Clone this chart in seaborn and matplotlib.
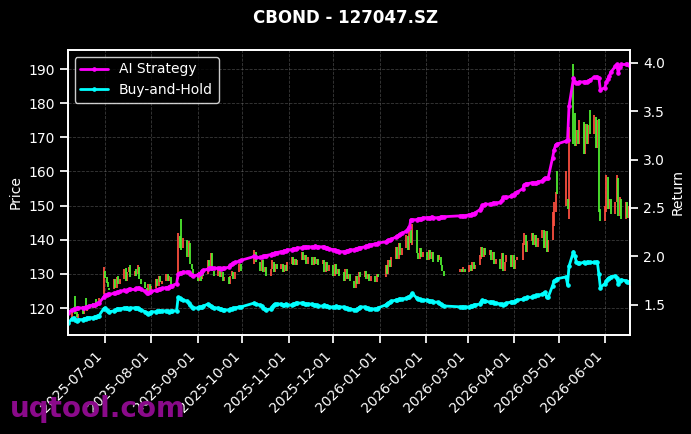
import numpy as np
import pandas as pd
import matplotlib
matplotlib.use("Agg")
import matplotlib.pyplot as plt
import matplotlib.dates as mdates
import seaborn as sns

# --- trading calendar (SZSE), one row per week below ---
START, END = "2025-06-06", "2026-06-18"
HOLIDAYS = ["2025-10-01", "2025-10-02", "2025-10-03", "2025-10-06", "2025-10-07", "2025-10-08",
            "2026-01-01", "2026-01-02",
            "2026-02-16", "2026-02-17", "2026-02-18", "2026-02-19", "2026-02-20", "2026-02-23",
            "2026-04-06", "2026-05-01", "2026-05-04", "2026-05-05"]

# --- daily bars (open / close) ---
bar_open = [
    118.0,
    116.5, 119.0, 123.5, 118.8, 117.2,
    120.5, 118.2, 123.0, 119.0, 120.5,
    121.5, 120.0, 122.8, 120.5, 121.0,
    124.0, 131.0, 129.0, 127.5, 126.0,
    125.5, 128.5, 126.0, 129.5, 127.0,
    128.5, 131.8, 128.0, 130.5, 132.5,
    129.5, 131.5, 130.0, 132.0, 128.5,
    127.5, 126.0, 125.0, 127.0, 125.0,
    126.0, 128.5, 126.5, 129.5, 127.0,
    128.0, 130.0, 128.0, 129.0, 127.0,
    126.5, 128.5, 141.0, 146.0, 137.5,
    140.0, 135.0, 139.0, 133.0, 131.5,
    129.5, 128.0, 130.5, 128.5, 131.0,
    130.0, 134.0, 131.5, 136.0, 131.0,
    129.5, 131.5, 129.0, 130.5, 128.0,
    129.0, 127.0, 129.5, 130.5, 128.5,
    130.5, 133.0,
    133.0, 136.5,
    133.5, 131.0, 134.0, 130.5, 132.0,
    129.5, 131.5, 133.5, 130.5, 133.0,
    131.5, 133.0, 130.5, 132.5, 131.0,
    133.0, 135.0, 132.5, 134.5, 132.5,
    134.0, 136.5, 134.0, 135.5, 133.0,
    135.0, 132.5, 135.0, 133.0, 134.5,
    133.0, 134.0, 130.5, 133.5, 131.0,
    132.5, 129.5, 133.0, 130.0, 131.5,
    130.5, 128.0, 131.5, 128.5, 130.0,
    128.0, 126.0, 129.5, 127.0, 130.5,
    129.0, 131.0, 128.5, 130.0, 128.0,
    129.5, 127.5, 130.0,
    129.0, 132.5, 130.0, 134.0, 132.0,
    134.5, 138.0, 134.5, 139.0, 135.5,
    137.5, 141.0, 137.0, 143.0, 138.5,
    143.0, 136.0, 134.5, 137.5, 135.0,
    136.5, 134.0, 137.0, 134.5, 136.5,
    135.5, 134.0, 135.0, 132.5, 131.0,
    130.5, 131.5, 130.5, 131.5,
    130.5, 132.5, 131.0, 133.5, 131.5,
    132.5, 134.5, 138.0, 135.0, 137.5,
    135.5, 137.0, 134.0, 136.5, 133.0,
    134.5, 131.5, 136.0, 131.0, 133.5,
    135.5, 132.0, 135.5, 131.5, 134.0,
    134.0, 138.5, 141.5, 136.5,
    139.5, 142.0, 138.5, 141.5, 138.0,
    140.5, 143.0, 137.5, 142.5, 136.5,
    140.0, 144.0, 148.0, 160.0,
    150.0, 152.0, 146.0,
    191.5, 177.0, 167.5, 172.0, 168.0,
    174.5, 165.0, 174.0, 168.0, 178.0,
    171.0, 176.0, 167.0, 175.5, 149.0,
    145.5, 148.0, 158.5, 149.0, 152.0,
    147.5, 151.0, 158.0, 147.0, 152.0,
    146.0, 151.0, 146.5, 150.0,
]
bar_close = [
    116.0,
    119.3, 120.1, 118.4, 117.5, 118.4,
    118.4, 119.3, 119.3, 120.1, 120.1,
    120.1, 121.0, 121.0, 121.9, 123.0,
    132.0, 128.9, 127.2, 126.3, 125.4,
    128.5, 126.0, 129.0, 127.0, 128.5,
    131.5, 128.0, 130.5, 132.0, 129.0,
    131.0, 129.5, 132.5, 128.5, 127.0,
    126.0, 124.5, 127.0, 125.0, 126.5,
    128.5, 126.5, 129.5, 127.5, 128.0,
    130.0, 128.0, 129.5, 127.0, 126.5,
    128.0, 142.0, 137.5, 137.0, 140.5,
    135.0, 139.5, 133.0, 131.5, 129.5,
    128.0, 130.5, 128.0, 131.0, 129.5,
    134.0, 131.5, 136.0, 131.0, 129.5,
    131.5, 129.0, 130.5, 128.0, 129.0,
    127.0, 129.5, 131.0, 128.5, 130.5,
    133.0, 131.0,
    137.0, 133.5,
    131.0, 134.0, 130.5, 132.0, 129.5,
    131.5, 134.0, 130.5, 133.0, 131.5,
    133.0, 130.5, 132.5, 131.0, 133.5,
    135.0, 132.5, 134.5, 132.5, 134.0,
    136.5, 134.0, 135.5, 133.0, 135.0,
    132.5, 135.0, 133.0, 134.5, 132.5,
    134.0, 130.5, 133.5, 131.0, 132.5,
    129.5, 133.0, 130.0, 131.5, 129.5,
    128.0, 131.5, 128.5, 130.0, 128.0,
    126.0, 129.5, 127.0, 130.5, 129.0,
    131.0, 128.5, 130.0, 128.0, 129.5,
    127.5, 130.0, 129.0,
    132.5, 130.0, 134.0, 132.0, 135.0,
    138.0, 134.5, 139.0, 135.5, 137.5,
    141.5, 137.0, 143.5, 139.0, 144.5,
    136.0, 134.5, 137.5, 135.0, 136.5,
    134.0, 137.0, 134.5, 136.5, 133.5,
    133.5, 135.5, 132.5, 131.0, 129.5,
    131.5, 130.5, 132.0, 130.5,
    132.5, 131.0, 133.5, 131.5, 132.5,
    135.5, 138.0, 135.0, 137.5, 135.5,
    137.0, 134.0, 136.5, 133.0, 134.5,
    131.5, 136.0, 131.0, 133.5, 135.5,
    132.0, 135.5, 131.5, 134.0, 135.0,
    139.0, 142.0, 136.5, 139.5,
    142.0, 138.5, 141.5, 138.0, 140.5,
    143.0, 137.5, 142.5, 136.5, 140.0,
    148.0, 151.0, 154.0, 153.5,
    160.0, 149.0, 173.0,
    168.0, 167.5, 172.0, 168.0, 175.0,
    165.0, 174.0, 168.0, 173.5, 171.0,
    176.5, 167.0, 175.0, 148.0, 145.5,
    150.0, 159.0, 149.0, 152.0, 147.5,
    151.0, 159.0, 147.0, 152.5, 146.0,
    151.0, 146.5, 150.0, 145.5,
]

# --- cumulative returns ---
strategy_ret = [
    1.42,
    1.45, 1.46, 1.46, 1.47, 1.47,
    1.47, 1.47, 1.48, 1.48, 1.49,
    1.50, 1.50, 1.51, 1.52, 1.52,
    1.58, 1.60, 1.60, 1.61, 1.61,
    1.62, 1.62, 1.63, 1.63, 1.64,
    1.65, 1.64, 1.655, 1.66, 1.66,
    1.66, 1.67, 1.67, 1.67, 1.66,
    1.64, 1.62, 1.62, 1.63, 1.64,
    1.65, 1.65, 1.66, 1.665, 1.67,
    1.68, 1.68, 1.69, 1.70, 1.70,
    1.72, 1.82, 1.83, 1.83, 1.84,
    1.84, 1.84, 1.82, 1.81, 1.80,
    1.81, 1.82, 1.83, 1.85, 1.86,
    1.87, 1.88, 1.88, 1.88, 1.88,
    1.88, 1.88, 1.87, 1.88, 1.88,
    1.89, 1.91, 1.92, 1.93, 1.94,
    1.95, 1.96,
    2.00, 1.99,
    1.99, 1.99, 2.00, 2.01, 2.01,
    2.02, 2.03, 2.03, 2.04, 2.04,
    2.05, 2.05, 2.06, 2.06, 2.07,
    2.07, 2.08, 2.08, 2.08, 2.09,
    2.09, 2.10, 2.10, 2.10, 2.10,
    2.10, 2.10, 2.11, 2.10, 2.10,
    2.10, 2.10, 2.09, 2.09, 2.08,
    2.07, 2.07, 2.06, 2.06, 2.05,
    2.05, 2.05, 2.06, 2.06, 2.07,
    2.07, 2.08, 2.08, 2.09, 2.09,
    2.10, 2.11, 2.11, 2.12, 2.12,
    2.13, 2.13, 2.14,
    2.15, 2.16, 2.17, 2.17, 2.18,
    2.20, 2.21, 2.22, 2.23, 2.24,
    2.26, 2.28, 2.30, 2.38, 2.38,
    2.38, 2.39, 2.39, 2.39, 2.40,
    2.40, 2.40, 2.40, 2.41, 2.40,
    2.40, 2.40, 2.41, 2.41, 2.41,
    2.42, 2.42, 2.42, 2.42,
    2.43, 2.43, 2.44, 2.44, 2.45,
    2.48, 2.50, 2.53, 2.53, 2.54,
    2.54, 2.54, 2.55, 2.55, 2.55,
    2.56, 2.58, 2.61, 2.61, 2.61,
    2.62, 2.63, 2.63, 2.65, 2.66,
    2.70, 2.74, 2.75, 2.75,
    2.76, 2.76, 2.76, 2.76, 2.77,
    2.78, 2.80, 2.81, 2.81, 2.81,
    3.02, 3.10, 3.15, 3.16,
    3.19, 3.20, 3.55,
    3.84, 3.80, 3.79, 3.79, 3.80,
    3.80, 3.80, 3.80, 3.81, 3.82,
    3.85, 3.85, 3.85, 3.84, 3.72,
    3.74, 3.80, 3.83, 3.86, 3.90,
    3.96, 3.98, 3.89, 3.95, 3.98,
    3.98, 3.98, 3.97, 3.97,
]
bh_ret = [
    1.31,
    1.36, 1.37, 1.35, 1.34, 1.35,
    1.35, 1.36, 1.36, 1.37, 1.37,
    1.37, 1.38, 1.38, 1.39, 1.39,
    1.46, 1.47, 1.45, 1.44, 1.43,
    1.44, 1.45, 1.46, 1.46, 1.46,
    1.47, 1.47, 1.47, 1.46, 1.47,
    1.47, 1.47, 1.47, 1.46, 1.45,
    1.43, 1.42, 1.41, 1.42, 1.43,
    1.43, 1.44, 1.44, 1.44, 1.44,
    1.44, 1.44, 1.43, 1.44, 1.44,
    1.44, 1.58, 1.57, 1.56, 1.55,
    1.54, 1.52, 1.50, 1.48, 1.47,
    1.47, 1.48, 1.48, 1.48, 1.49,
    1.51, 1.50, 1.49, 1.48, 1.47,
    1.47, 1.46, 1.46, 1.45, 1.45,
    1.45, 1.46, 1.46, 1.47, 1.47,
    1.48, 1.48,
    1.52, 1.51,
    1.50, 1.49, 1.47, 1.46, 1.45,
    1.46, 1.48, 1.50, 1.51, 1.51,
    1.51, 1.50, 1.50, 1.51, 1.50,
    1.50, 1.51, 1.51, 1.52, 1.52,
    1.52, 1.52, 1.51, 1.51, 1.51,
    1.51, 1.50, 1.50, 1.50, 1.49,
    1.49, 1.50, 1.49, 1.49, 1.48,
    1.48, 1.48, 1.49, 1.48, 1.48,
    1.48, 1.47, 1.47, 1.46, 1.46,
    1.45, 1.45, 1.46, 1.47, 1.48,
    1.48, 1.47, 1.47, 1.46, 1.46,
    1.46, 1.46, 1.47,
    1.50, 1.51, 1.52, 1.53, 1.54,
    1.55, 1.55, 1.56, 1.56, 1.56,
    1.57, 1.58, 1.58, 1.60, 1.62,
    1.57, 1.56, 1.56, 1.55, 1.55,
    1.55, 1.54, 1.54, 1.54, 1.53,
    1.53, 1.52, 1.51, 1.50, 1.49,
    1.48, 1.48, 1.48, 1.48,
    1.48, 1.49, 1.49, 1.50, 1.50,
    1.51, 1.53, 1.55, 1.54, 1.54,
    1.53, 1.53, 1.53, 1.52, 1.52,
    1.51, 1.51, 1.50, 1.51, 1.52,
    1.53, 1.53, 1.53, 1.54, 1.55,
    1.56, 1.57, 1.57, 1.58,
    1.58, 1.59, 1.59, 1.60, 1.60,
    1.61, 1.62, 1.63, 1.58, 1.58,
    1.70, 1.75, 1.76, 1.77,
    1.79, 1.71, 1.90,
    2.05, 2.00, 1.94, 1.93, 1.93,
    1.94, 1.93, 1.94, 1.94, 1.94,
    1.94, 1.94, 1.94, 1.82, 1.68,
    1.72, 1.75, 1.77, 1.78, 1.79,
    1.80, 1.78, 1.72, 1.75, 1.76,
    1.75, 1.74, 1.74, 1.73,
]

UP_COLOR = "#ff5040"     # red = close above open
DOWN_COLOR = "#50f030"   # green = close below open


def main():
    dates = pd.bdate_range(START, END)
    dates = dates[~dates.isin(pd.to_datetime(HOLIDAYS))]
    assert len(dates) == len(bar_close) == len(bar_open) == len(strategy_ret) == len(bh_ret), \
        (len(dates), len(bar_open), len(bar_close), len(strategy_ret), len(bh_ret))

    sns.set_theme(style="ticks", rc={
        "figure.facecolor": "black", "axes.facecolor": "black",
        "axes.edgecolor": "white", "text.color": "white",
        "axes.labelcolor": "white", "xtick.color": "white", "ytick.color": "white",
        "xtick.labelsize": 10, "ytick.labelsize": 10, "axes.labelsize": 10,
        "legend.fontsize": 10,
    })
    plt.rcParams["font.family"] = ["DejaVu Sans"]

    fig, ax = plt.subplots(figsize=(6.91, 4.34), dpi=100)
    fig.subplots_adjust(left=0.098, right=0.912, top=0.885, bottom=0.228)

    # candles on the price axis
    o = np.array(bar_open)
    c = np.array(bar_close)
    up = c >= o
    ax.vlines(dates[up], o[up], c[up], color=UP_COLOR, linewidth=1.4, alpha=0.9)
    ax.vlines(dates[~up], o[~up], c[~up], color=DOWN_COLOR, linewidth=1.4, alpha=0.9)
    ax.set_ylim(112.1, 195.6)
    ax.set_ylabel("Price")
    ax.grid(True, linestyle="--", color="gray", alpha=0.45, linewidth=0.6)

    # returns on the twin axis
    ax2 = ax.twinx()
    sns.lineplot(x=dates, y=strategy_ret, ax=ax2, color="#ff00ff", linewidth=2,
                 marker="o", markersize=2.5, markeredgecolor="#ff00ff", label="AI Strategy")
    sns.lineplot(x=dates, y=bh_ret, ax=ax2, color="#00ffff", linewidth=2,
                 marker="o", markersize=2.5, markeredgecolor="#00ffff", label="Buy-and-Hold")
    ax2.set_ylim(1.19, 4.13)
    ax2.set_ylabel("Return")
    ax2.grid(False)
    ax2.legend(loc="upper left", facecolor="black", edgecolor="white", labelcolor="white")

    for a in (ax, ax2):
        for s in a.spines.values():
            s.set_color("white")
    ax.set_xlim(dates[0], dates[-1])
    ax.xaxis.set_major_locator(mdates.MonthLocator())
    ax.xaxis.set_major_formatter(mdates.DateFormatter("%Y-%m-%d"))
    plt.setp(ax.get_xticklabels(), rotation=45, ha="right")

    fig.suptitle("CBOND - 127047.SZ", fontsize=12, fontweight="bold", color="white")
    fig.text(0.014, 0.04, "uqtool.com", fontsize=20, fontweight="bold", color="#8a0a8a")

    fig.savefig("out.png", dpi=100, facecolor="black")
    plt.close(fig)


if __name__ == "__main__":
    main()
